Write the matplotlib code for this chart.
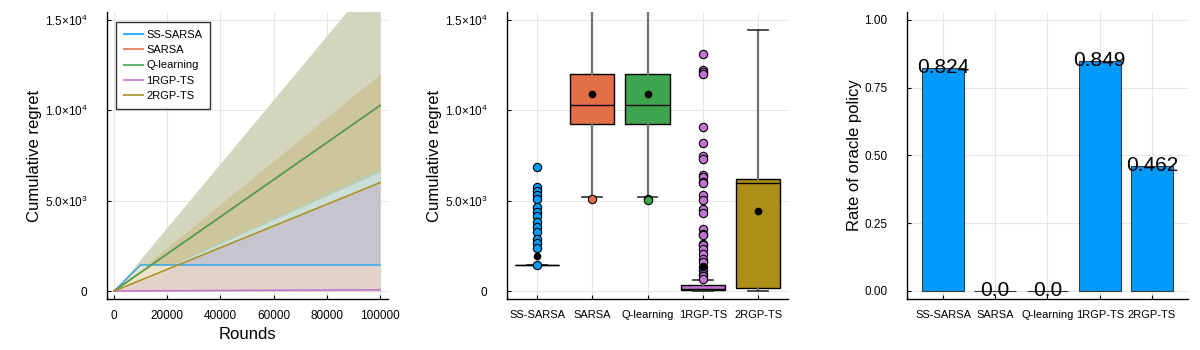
import numpy as np
import matplotlib
matplotlib.use("Agg")
import matplotlib.pyplot as plt
from matplotlib.lines import Line2D

plt.rcParams['font.family'] = ['Liberation Sans', 'DejaVu Sans']
plt.rcParams['mathtext.fontset'] = 'custom'
plt.rcParams['mathtext.rm'] = 'Liberation Sans'
plt.rcParams['mathtext.it'] = 'Liberation Sans:italic'

# --- data -----------------------------------------------------------------
algos = ['SS-SARSA', 'SARSA', 'Q-learning', '1RGP-TS', '2RGP-TS']
colors = ['#009AFA', '#E36F47', '#3EA44E', '#C371D2', '#AC8E18']

# regret curves (rounds at 0, 10000, 100000)
rounds = np.array([0, 10000, 100000])
ss_sarsa_line = np.array([0, 1440, 1440])
sarsa_line = np.array([0, 1027, 10270])
qlearn_line = np.array([0, 1027, 10270])
rgp1_line = np.array([0, 7, 70])
rgp2_line = np.array([0, 600, 6000])

# band edges
band_outer = np.array([0, 1768, 17680])
band_upper = np.array([0, 1201, 12010])
band_strip = np.array([0, 678, 6780])
band_teal = np.array([0, 660, 6600])

# boxplot stats
box_q1 = [1440, 9240, 9240, 40, 180]
box_med = [1440, 10270, 10270, 90, 6000]
box_q3 = [1440, 12000, 12000, 310, 6190]
box_lo = [1440, 5220, 5220, 0, 0]
box_hi = [1440, 17600, 17600, 630, 14450]
box_mean = [1940, 10900, 10900, 1330, 4430]
box_fliers = [
    [6850, 5770, 5550, 5310, 5070, 4670, 4390, 4150, 3840, 3530, 3250,
     2860, 2640, 2360, 1440],
    [5090],
    [5090, 5050],
    [13100, 12230, 12140, 12000, 9090, 8200, 7460, 7330, 6410, 6320, 6040,
     5990, 5300, 5020, 4560, 4290, 3440, 3180, 3090, 2620, 2530, 2350,
     2070, 1790, 1610, 1330, 1150, 960, 810, 680],
    [],
]

oracle_rate = [0.824, 0.0, 0.0, 0.849, 0.462]

# --- figure ---------------------------------------------------------------
fig = plt.figure(figsize=(12, 3.5), dpi=100)
w, h, b = 0.2342, 0.8219, 0.1448
ax1 = fig.add_axes([0.0892, b, w, h])
ax2 = fig.add_axes([0.4225, b, w, h])
ax3 = fig.add_axes([0.7558, b, w, h])

yticks = [0, 5000, 10000, 15000]
ylabels = ['0', r'$5.0{\times}10^{3}$', r'$1.0{\times}10^{4}$', r'$1.5{\times}10^{4}$']


def style(ax):
    for s in ['top', 'right']:
        ax.spines[s].set_visible(False)
    for s in ['left', 'bottom']:
        ax.spines[s].set_linewidth(1.0)
    ax.grid(True, color='#e6e6e6', linewidth=0.8)
    ax.set_axisbelow(True)
    ax.tick_params(direction='in', length=3, labelsize=8.5, colors='black')
    ax.tick_params(axis='y', pad=14)
    ax.tick_params(axis='x', pad=8)


# panel 1 : cumulative regret curves with shaded bands
style(ax1)
ax1.fill_between(rounds, 0, band_outer, color='#d3d5bc', lw=0)
ax1.fill_between(rounds, 0, band_upper, color='#cdc59c', lw=0)
ax1.fill_between(rounds, 0, band_strip, color='#b9ccb0', lw=0)
ax1.fill_between(rounds, 0, band_teal, color='#c9dfd8', lw=0)
ax1.fill_between(rounds, ss_sarsa_line, rgp2_line, where=rgp2_line >= ss_sarsa_line,
                 interpolate=True, color='#c6c5cd', lw=0)
ax1.fill_between(rounds, rgp2_line, ss_sarsa_line, where=ss_sarsa_line >= rgp2_line,
                 interpolate=True, color='#ece4c8', lw=0)
# lowest region, up to whichever of the two lines is lower
xx = np.linspace(0, 100000, 401)
ax1.fill_between(xx, 0, np.minimum(np.interp(xx, rounds, ss_sarsa_line),
                                   np.interp(xx, rounds, rgp2_line)),
                 color='#e3d2c8', lw=0)

lines = [ss_sarsa_line, sarsa_line, qlearn_line, rgp1_line, rgp2_line]
for name, c, y in zip(algos, colors, lines):
    a = 0.75 if name == 'SS-SARSA' else 1.0
    ax1.plot(rounds, y, color=c, lw=1.1, alpha=a)

ax1.set_xlim(-2630, 103000)
ax1.set_ylim(-460, 15460)
ax1.set_xticks([0, 20000, 40000, 60000, 80000, 100000])
ax1.set_xticklabels(['0', '20000', '40000', '60000', '80000', '100000'])
ax1.set_yticks(yticks)
ax1.set_yticklabels(ylabels)
ax1.set_xlabel('Rounds', fontsize=12, labelpad=3)
ax1.set_ylabel('Cumulative regret', fontsize=12, labelpad=2)

handles = [Line2D([], [], color=c, lw=1.5, alpha=0.8) for c in colors]
leg = ax1.legend(handles, algos, loc='upper left', bbox_to_anchor=(0.032, 0.964),
                 fontsize=8, frameon=True, fancybox=False, handlelength=1.7,
                 handletextpad=0.3, labelspacing=0.48, borderpad=0.7,
                 borderaxespad=0)
leg.get_frame().set_edgecolor('black')
leg.get_frame().set_linewidth(1.0)

# panel 2 : boxplots
style(ax2)
stats = []
for i in range(len(algos)):
    stats.append(dict(med=box_med[i], q1=box_q1[i], q3=box_q3[i],
                      whislo=box_lo[i], whishi=box_hi[i], mean=box_mean[i],
                      fliers=box_fliers[i]))
bp = ax2.bxp(stats, positions=range(1, 6), widths=0.8, capwidths=0.36,
             patch_artist=True, showmeans=True, showfliers=True,
             boxprops=dict(edgecolor='black', linewidth=1.0),
             medianprops=dict(color='black', linewidth=1.0),
             whiskerprops=dict(color='#707070', linewidth=1.6),
             capprops=dict(color='#303030', linewidth=1.2),
             meanprops=dict(marker='o', markerfacecolor='black',
                            markeredgecolor='black', markersize=4.5),
             flierprops=dict(marker='o', markersize=6, markeredgewidth=0.8,
                             markeredgecolor='black'))
for patch, c in zip(bp['boxes'], colors):
    patch.set_facecolor(c)
for fl, c in zip(bp['fliers'], colors):
    fl.set_markerfacecolor(c)
    fl.set_zorder(3)
for m in bp['means']:
    m.set_zorder(4)

ax2.set_xlim(0.457, 5.543)
ax2.set_ylim(-460, 15460)
ax2.set_xticks(range(1, 6))
ax2.set_xticklabels(algos, fontsize=8)
ax2.set_yticks(yticks)
ax2.set_yticklabels(ylabels)
ax2.set_ylabel('Cumulative regret', fontsize=12, labelpad=2)

# panel 3 : rate of oracle policy
style(ax3)
pos = np.arange(1, 6)
ax3.bar(pos, oracle_rate, width=0.8, color=colors[0], edgecolor='#3a3a3a',
        linewidth=0.8)
for p, v in zip(pos, oracle_rate):
    ax3.text(p, v, str(v), ha='center', va='center', fontsize=15)
ax3.set_xlim(0.31, 5.69)
ax3.set_ylim(-0.0307, 1.0307)
ax3.set_xticks(pos)
ax3.set_xticklabels(algos, fontsize=8)
ax3.set_yticks([0, 0.25, 0.5, 0.75, 1.0])
ax3.set_yticklabels(['0.00', '0.25', '0.50', '0.75', '1.00'])
ax3.set_ylabel('Rate of oracle policy', fontsize=12, labelpad=2)

fig.savefig('out.png', dpi=100)
